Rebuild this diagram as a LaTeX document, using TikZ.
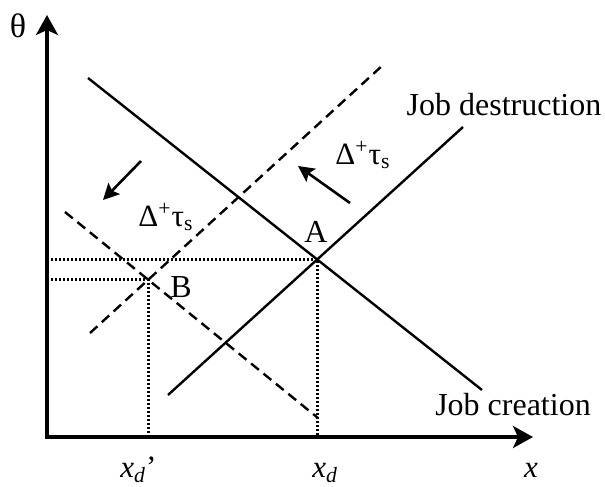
\documentclass[tikz,border=0pt]{standalone}
\usepackage{fontspec}
\setmainfont{Liberation Serif}
\usetikzlibrary{arrows.meta}

\begin{document}
\begin{tikzpicture}[x=0.5pt,y=-0.5pt,
  axis/.style={line width=1.6pt,-{Stealth[length=10pt,width=11pt,inset=2.5pt]}},
  curve/.style={line width=1.2pt},
  shifted/.style={curve,dash pattern=on 5pt off 3pt},
  guide/.style={line width=1.5pt,dash pattern=on 1pt off 1pt},
  movearr/.style={line width=1.3pt,-{Stealth[length=8pt,width=8pt,inset=1.5pt]}},
  lbl/.style={font=\fontsize{16}{18}\selectfont,inner sep=0pt},
  sml/.style={font=\fontsize{15.5}{17}\selectfont,inner sep=0pt}
]
\useasboundingbox (0,0) rectangle (605,487);
% axes
\coordinate (O) at (47,437);
\coordinate (ytop) at (47,15);
\coordinate (xend) at (533,437);
\draw[axis] (O)--(ytop);
\draw[axis] ([xshift=-0.8pt]O)--(xend);
\node[sml,font=\fontsize{17}{18}\selectfont] (theta) at (18,26) {θ};
\node[sml,anchor=base] (xlab) at (531,477) {\textit{x}};

% job creation and job destruction
\coordinate (jc1) at (88,78);
\coordinate (jc2) at (482,390);
\coordinate (jd1) at (168,395);
\coordinate (jd2) at (463,127);
\draw[curve] (jc1)--(jc2);
\draw[curve] (jd1)--(jd2);
\coordinate (A) at (intersection of jc1--jc2 and jd1--jd2);

% after the rise in tau_s
\coordinate (dc1) at (65,212);
\coordinate (dc2) at (318,418);
\coordinate (dd1) at (90,333);
\coordinate (dd2) at (383,65);
\draw[shifted] (dc1)--(dc2);
\draw[shifted] (dd1)--(dd2);
\coordinate (B) at (intersection of dc1--dc2 and dd1--dd2);

\draw[guide] (O|-A)--(A)--(A|-O);
\draw[guide] (O|-B)--(B)--(B|-O);

\node[lbl] (Alab) at (316,232) {A};
\node[lbl] (Blab) at (181,287) {B};
\node[lbl] (jdlab) at (504,105) {Job destruction};
\node[lbl] (jclab) at (513,405) {Job creation};
\node[sml,anchor=base west] (xdp) at (120,477) {\textit{x}\textsubscript{\textit{d}}’};
\node[sml,anchor=base west] (xd) at (312,477) {\textit{x}\textsubscript{\textit{d}}};

% shifts
\coordinate (s1a) at (141,161);
\coordinate (s1b) at (103,200);
\coordinate (s2a) at (350,203);
\coordinate (s2b) at (298,166);
\draw[movearr] (s1a)--(s1b);
\draw[movearr] (s2a)--(s2b);
\node[sml] (tau1) at (166,217) {Δ\textsuperscript{+}τ\textsubscript{s}};
\node[sml] (tau2) at (363,155) {Δ\textsuperscript{+}τ\textsubscript{s}};
\end{tikzpicture}
\end{document}
